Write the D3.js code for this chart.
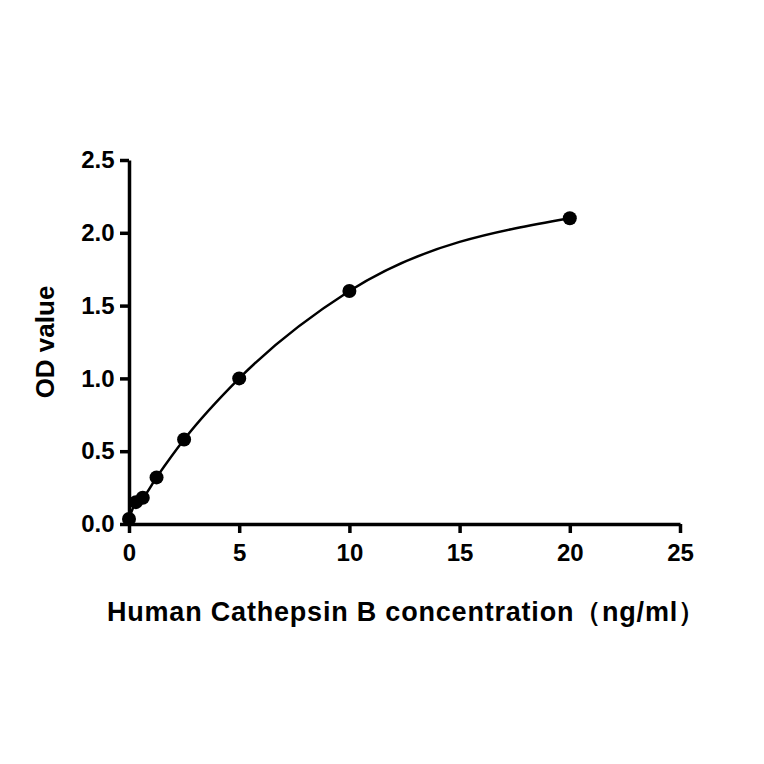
<!DOCTYPE html>
<html><head><meta charset="utf-8">
<script src="https://cdn.jsdelivr.net/npm/d3@7"></script>
<style>body{margin:0;background:#fff}text{font-family:"Liberation Sans",Arial,sans-serif;font-weight:bold}</style>
</head><body>
<svg id="c" width="764" height="764"></svg>
<script>
// standard curve data
var conc = [0, 0.3125, 0.625, 1.25, 2.5, 5, 10, 20];
var od = [0.035, 0.15, 0.18, 0.32, 0.58, 1.0, 1.6, 2.1];
var xTicks = [0, 5, 10, 15, 20, 25];
var yTicks = [0, 0.5, 1.0, 1.5, 2.0, 2.5];

var svg = d3.select("#c");
var x = d3.scaleLinear().domain([0, 25]).range([129, 680]);
var y = d3.scaleLinear().domain([0, 2.5]).range([524, 160]);

var xAxis = svg.append("g").attr("transform", "translate(0,524)")
  .call(d3.axisBottom(x).tickValues(xTicks).tickSize(9).tickSizeOuter(0));
var yAxis = svg.append("g").attr("transform", "translate(129,0)")
  .call(d3.axisLeft(y).tickValues(yTicks).tickFormat(d3.format(".1f")).tickSize(9).tickSizeOuter(0));
[xAxis, yAxis].forEach(function(a) {
  a.selectAll("path,line").attr("stroke", "#000").attr("stroke-width", 3.5);
  a.selectAll("text").attr("font-size", 24).attr("fill", "#000");
});
xAxis.selectAll("text").attr("dy", "1.05em");
yAxis.selectAll("text").attr("dx", "-0.1em");

var pts = conc.map(function(c, i) { return [c, od[i]]; });
svg.append("path").datum(pts)
  .attr("fill", "none").attr("stroke", "#000").attr("stroke-width", 2.5)
  .attr("d", d3.line().x(function(d) { return x(d[0]); }).y(function(d) { return y(d[1]); }).curve(d3.curveMonotoneX));

svg.selectAll("circle").data(pts).enter().append("circle")
  .attr("cx", function(d) { return x(d[0]); })
  .attr("cy", function(d) { return y(d[1]); })
  .attr("r", 7).attr("fill", "#000");

svg.append("text").attr("x", 406).attr("y", 621).attr("text-anchor", "middle")
  .attr("font-size", 27).attr("textLength", 598).text("Human Cathepsin B concentration（ng/ml）");
svg.append("text").attr("transform", "translate(54,342) rotate(-90)").attr("text-anchor", "middle")
  .attr("font-size", 26).text("OD value");
</script>
</body></html>
